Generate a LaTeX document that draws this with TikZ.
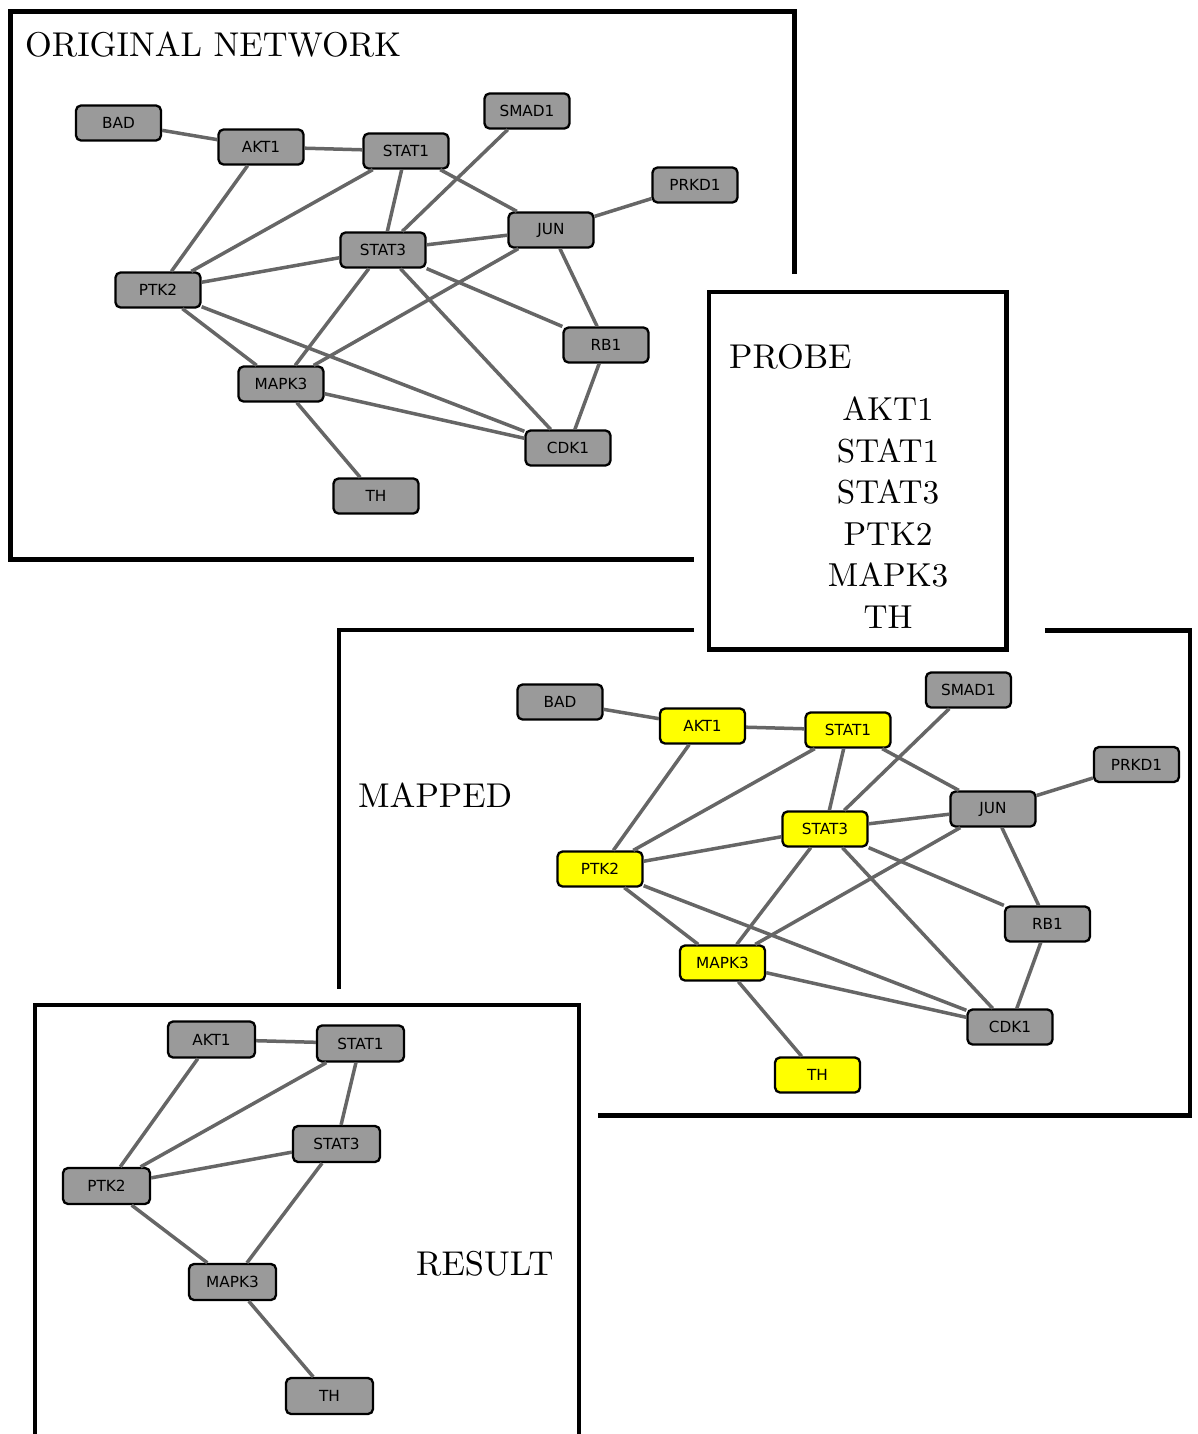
\documentclass[tikz,border=0pt]{standalone}
\usepackage{fontspec}
\newfontfamily\genefont{DejaVu Sans}
% 10pt design size of Latin Modern, scaled up for the large headings
\newfontfamily\headfont{lmroman10-regular}[Extension=.otf]
\definecolor{genegray}{HTML}{9A9A9A}
\definecolor{probeyellow}{HTML}{FFFF00}
\definecolor{edgegray}{HTML}{666666}
\tikzset{
  gene/.style={draw=black, line width=2.3pt, rounded corners=5pt, fill=genegray,
    minimum width=85pt, minimum height=35pt, inner sep=0pt,
    font=\genefont\fontsize{15.3}{18}\selectfont},
  hit/.style={gene, fill=probeyellow},
  bigbox/.style={gene, minimum width=87pt, minimum height=36pt},
  link/.style={draw=edgegray, line width=3.5pt},
  frame/.style={draw=black, line width=4.3pt, line join=miter},
  title/.style={inner sep=0pt, font=\headfont\fontsize{34.4}{40}\selectfont},
  listitem/.style={inner sep=0pt, anchor=base, font=\headfont\fontsize{33.2}{40}\selectfont}
}
\begin{document}
\begin{tikzpicture}[x=1pt,y=-1pt]
\useasboundingbox (0,0) rectangle (1198,1434);

% ---------- frames ----------
\draw[frame] (794.5,274) -- (794.5,11.5) -- (10.5,11.5) -- (10.5,559.5) -- (694,559.5);
\draw[frame] (709,292) rectangle (1006.5,649.5);
\draw[frame] (694,630) -- (339,630) -- (339,989);
\draw[frame] (1045,630.5) -- (1190,630.5) -- (1190,1115.5) -- (598,1115.5);
\draw[frame] (35,1440) -- (35,1005) -- (579,1005) -- (579,1440);

% ---------- titles ----------
\node[title, anchor=base west] (tOrig) at (25,57) {ORIGINAL NETWORK};
\node[title, anchor=base west] (tProbe) at (729,368) {PROBE};
\node[title, anchor=base west] (tMapped) at (358,807.5) {MAPPED};
\node[title, anchor=base west] (tResult) at (416,1275) {RESULT};

\node[listitem] (p1) at (888,420.7) {AKT1};
\node[listitem] (p2) at (888,462.2) {STAT1};
\node[listitem] (p3) at (888,503.7) {STAT3};
\node[listitem] (p4) at (888,545.2) {PTK2};
\node[listitem] (p5) at (888,586.7) {MAPK3};
\node[listitem] (p6) at (888,628.2) {TH};

% ---------- original network ----------
\begin{scope}
\node[gene] (oBAD)   at (118.5,123) {BAD};
\node[gene] (oAKT1)  at (261,147)   {AKT1};
\node[gene] (oSTAT1) at (406,151)   {STAT1};
\node[gene] (oSMAD1) at (527,111)   {SMAD1};
\node[gene] (oPRKD1) at (695,185)   {PRKD1};
\node[gene] (oJUN)   at (551,230)   {JUN};
\node[gene] (oSTAT3) at (383,250)   {STAT3};
\node[gene] (oPTK2)  at (158,290)   {PTK2};
\node[gene] (oRB1)   at (606,345)   {RB1};
\node[gene] (oMAPK3) at (281,384)   {MAPK3};
\node[gene] (oCDK1)  at (568,448)   {CDK1};
\node[gene] (oTH)    at (376,496)   {TH};
\foreach \a/\b in {BAD/AKT1, AKT1/STAT1, AKT1/PTK2, STAT1/PTK2, STAT1/STAT3,
  STAT1/JUN, SMAD1/STAT3, PRKD1/JUN, STAT3/JUN, STAT3/PTK2, STAT3/RB1,
  STAT3/MAPK3, STAT3/CDK1, JUN/MAPK3, JUN/RB1, RB1/CDK1, PTK2/MAPK3,
  PTK2/CDK1, MAPK3/CDK1, MAPK3/TH}
  \draw[link] (o\a) -- (o\b);
\end{scope}

% ---------- mapped network ----------
\begin{scope}
\node[gene] (mBAD)   at (560,702)   {BAD};
\node[hit]  (mAKT1)  at (702.5,726) {AKT1};
\node[hit]  (mSTAT1) at (848,730)   {STAT1};
\node[gene] (mSMAD1) at (968.5,690) {SMAD1};
\node[gene] (mPRKD1) at (1136.5,764.5) {PRKD1};
\node[gene] (mJUN)   at (993,809)   {JUN};
\node[hit]  (mSTAT3) at (825,829)   {STAT3};
\node[hit]  (mPTK2)  at (600,869)   {PTK2};
\node[gene] (mRB1)   at (1047.5,924) {RB1};
\node[hit]  (mMAPK3) at (722.5,963) {MAPK3};
\node[gene] (mCDK1)  at (1010,1027) {CDK1};
\node[hit]  (mTH)    at (817.5,1075) {TH};
\foreach \a/\b in {BAD/AKT1, AKT1/STAT1, AKT1/PTK2, STAT1/PTK2, STAT1/STAT3,
  STAT1/JUN, SMAD1/STAT3, PRKD1/JUN, STAT3/JUN, STAT3/PTK2, STAT3/RB1,
  STAT3/MAPK3, STAT3/CDK1, JUN/MAPK3, JUN/RB1, RB1/CDK1, PTK2/MAPK3,
  PTK2/CDK1, MAPK3/CDK1, MAPK3/TH}
  \draw[link] (m\a) -- (m\b);
\end{scope}

% ---------- result network ----------
\begin{scope}
\node[bigbox] (rAKT1)  at (211.5,1039.5) {AKT1};
\node[bigbox] (rSTAT1) at (360.5,1043.5) {STAT1};
\node[bigbox] (rSTAT3) at (336.5,1144)   {STAT3};
\node[bigbox] (rPTK2)  at (106.5,1186)   {PTK2};
\node[bigbox] (rMAPK3) at (232.5,1282)   {MAPK3};
\node[bigbox] (rTH)    at (329.5,1396)   {TH};
\foreach \a/\b in {AKT1/STAT1, AKT1/PTK2, STAT1/PTK2, STAT1/STAT3,
  STAT3/PTK2, STAT3/MAPK3, PTK2/MAPK3, MAPK3/TH}
  \draw[link] (r\a) -- (r\b);
\end{scope}
\end{tikzpicture}
\end{document}
